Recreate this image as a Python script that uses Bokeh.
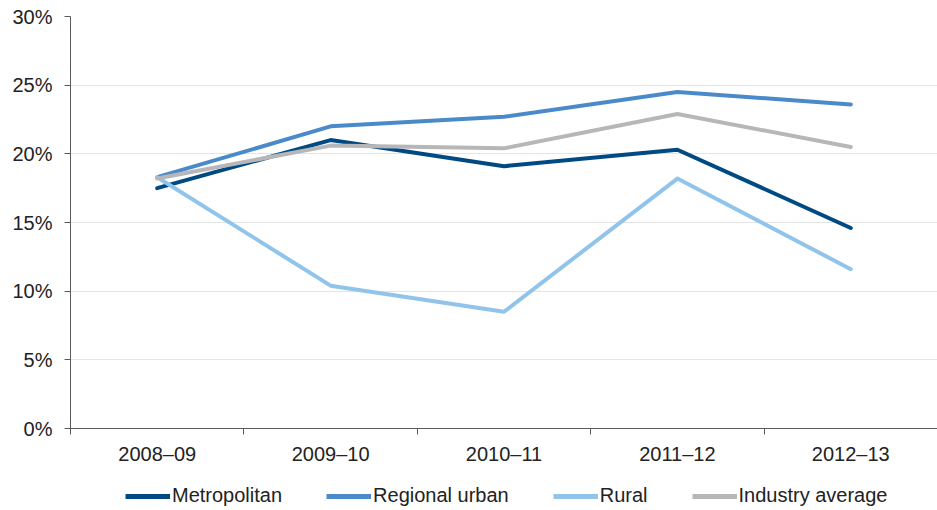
from bokeh.plotting import figure
from bokeh.layouts import column
from bokeh.models import (FixedTicker, PrintfTickFormatter, Legend, LegendItem,
                          ColumnDataSource, Range1d)
from bokeh.embed import file_html
from bokeh.resources import INLINE

# Financial years and the share (%) for each area type
years = ["2008–09", "2009–10", "2010–11", "2011–12", "2012–13"]
metropolitan = [17.5, 21.0, 19.1, 20.3, 14.6]
regional_urban = [18.3, 22.0, 22.7, 24.5, 23.6]
rural = [18.3, 10.4, 8.5, 18.2, 11.6]
industry_average = [18.2, 20.6, 20.4, 22.9, 20.5]
y_ticks = [0, 5, 10, 15, 20, 25, 30]

series = [
    ("Metropolitan", metropolitan, "#004A83"),
    ("Regional urban", regional_urban, "#4B8ACA"),
    ("Rural", rural, "#91C4EB"),
    ("Industry average", industry_average, "#B7B7BA"),
]

# categories sit at the middle of unit-wide slots; ticks mark the slot edges
xpos = [i + 0.5 for i in range(len(years))]

FONT = "Liberation Sans"
AXIS_COLOR = "#5A5A5A"
LINE_W = 4

p = figure(width=937, height=470, output_backend="svg", toolbar_location=None,
           x_range=Range1d(0, len(years)), y_range=Range1d(0, 30),
           min_border_left=70, min_border_right=0, min_border_top=16,
           min_border_bottom=42)
p.outline_line_color = None

# x axis: labels at category centres, short tick marks between categories
p.xaxis.ticker = FixedTicker(ticks=xpos, minor_ticks=list(range(len(years) + 1)))
p.xaxis.major_label_overrides = {x: y for x, y in zip(xpos, years)}
p.xaxis.major_tick_out = 0
p.xaxis.major_tick_in = 0
p.xaxis.minor_tick_out = 6
p.xaxis.minor_tick_in = 0
p.xaxis.minor_tick_line_color = AXIS_COLOR
p.xaxis.axis_line_color = AXIS_COLOR
p.xaxis.major_label_standoff = 8
p.xgrid.visible = False

# y axis: percentages
p.yaxis.ticker = FixedTicker(ticks=y_ticks)
p.yaxis.formatter = PrintfTickFormatter(format="%d%%")
p.yaxis.major_tick_out = 6
p.yaxis.major_tick_in = 0
p.yaxis.minor_tick_line_color = None
p.yaxis.axis_line_color = AXIS_COLOR
p.yaxis.major_tick_line_color = AXIS_COLOR
p.yaxis.major_label_standoff = 12
p.ygrid.grid_line_color = "#E4E4E4"
p.ygrid.grid_line_width = 1

for ax in (p.xaxis, p.yaxis):
    ax.major_label_text_font = FONT
    ax.major_label_text_font_size = "20px"
    ax.major_label_text_color = "#222222"

sources = []
for name, vals, color in series:
    src = ColumnDataSource(dict(x=xpos, y=vals))
    sources.append(src)
    p.line("x", "y", source=src, line_color=color, line_width=LINE_W,
           line_join="round", line_cap="round")

# legend strip underneath the chart; its ranges keep the series out of view,
# so only the legend keys are drawn
leg = figure(width=937, height=40, output_backend="svg", toolbar_location=None,
             x_range=Range1d(100, 101), y_range=Range1d(100, 101),
             min_border=0, x_axis_type=None, y_axis_type=None)
leg.outline_line_color = None
leg.xgrid.visible = False
leg.ygrid.visible = False

items = []
for (name, vals, color), src in zip(series, sources):
    r = leg.line("x", "y", source=src, line_color=color, line_width=LINE_W + 1)
    items.append(LegendItem(label=name, renderers=[r]))

legend = Legend(items=items, orientation="horizontal", location=(55, 3),
                glyph_width=45, glyph_height=20, label_standoff=2, spacing=44,
                label_text_font=FONT, label_text_font_size="20px",
                label_text_color="#222222", border_line_color=None,
                background_fill_alpha=0, padding=0, margin=0)
leg.add_layout(legend, "center")

open("out.html", "w").write(file_html(column(p, leg, spacing=0), INLINE))
